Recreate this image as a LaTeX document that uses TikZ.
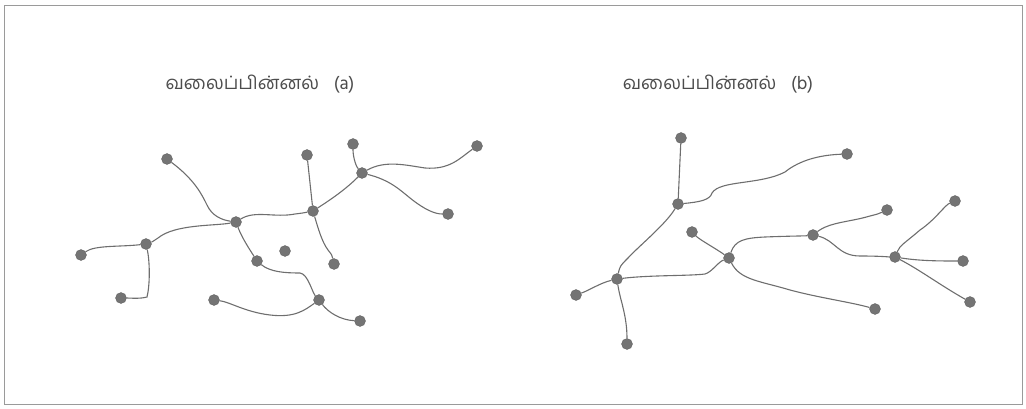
\documentclass[tikz,border=0pt]{standalone}
\usepackage{fontspec}
\newfontfamily\tamilfont[Script=Tamil]{Hind Madurai}
\definecolor{edgegray}{HTML}{6E6E6E}
\definecolor{nodegray}{HTML}{747474}
\definecolor{framegray}{HTML}{9A9A9A}
\tikzset{
  dot/.style={circle, fill=nodegray, draw=nodegray!80!black, line width=0.3pt, minimum size=11pt, inner sep=0pt},
  link/.style={draw=edgegray, line width=1.1pt},
  title/.style={font=\tamilfont\fontsize{18.5}{21}\selectfont, text=black!70}
}
\begin{document}
\begin{tikzpicture}[x=1pt,y=-1pt]
\useasboundingbox (0,0) rectangle (1026,409);
\draw[framegray, line width=1pt] (4,6) rectangle (1022,404);

\node[title] (ta) at (260,84) {வலைப்பின்னல்\hspace{0.8em}(a)};
\node[title] (tb) at (718,84) {வலைப்பின்னல்\hspace{0.8em}(b)};

% network (a)
\node[dot] (a1) at (167,159) {};
\node[dot] (a2) at (236,222) {};
\node[dot] (a3) at (146,244) {};
\node[dot] (a4) at (81,255) {};
\node[dot] (a5) at (121,298) {};
\node[dot] (a6) at (307,155) {};
\node[dot] (a7) at (313,211) {};
\node[dot] (a8) at (353,144) {};
\node[dot] (a9) at (362,173) {};
\node[dot] (a10) at (477,146) {};
\node[dot] (a11) at (448,214) {};
\node[dot] (a12) at (257,261) {};
\node[dot] (a13) at (285,251) {};
\node[dot] (a14) at (334,264) {};
\node[dot] (a15) at (214,300) {};
\node[dot] (a16) at (319,300) {};
\node[dot] (a17) at (360,321) {};

\path[link] (a1) .. controls (195,180) and (202,195) .. (207,205) .. controls (212,216) and (222,220) .. (a2);
\path[link] (a2) .. controls (215,226) and (175,224) .. (158,238) .. controls (152,242) .. (a3);
\path[link] (a3) .. controls (120,247) and (95,245) .. (a4);
\path[link] (a3) .. controls (150,262) and (150,285) .. (147,297) .. controls (140,299) and (130,298) .. (a5);
\path[link] (a2) .. controls (255,210) and (275,218) .. (295,214) .. controls (303,213) .. (a7);
\path[link] (a7) -- (a6);
\path[link] (a7) .. controls (330,200) and (345,190) .. (a9);
\path[link] (a9) .. controls (355,165) and (353,155) .. (a8);
\path[link] (a9) .. controls (385,160) and (405,165) .. (425,168) .. controls (450,170) and (460,158) .. (a10);
\path[link] (a9) .. controls (390,180) and (400,190) .. (410,198) .. controls (425,210) and (435,214) .. (a11);
\path[link] (a7) .. controls (318,228) and (322,242) .. (328,250) .. controls (332,255) .. (a14);
\path[link] (a2) .. controls (242,238) and (250,250) .. (a12);
\path[link] (a12) .. controls (270,272) and (285,273) .. (300,273) .. controls (308,274) and (312,292) .. (a16);
\path[link] (a16) .. controls (305,310) and (295,318) .. (270,315) .. controls (245,312) and (230,302) .. (a15);
\path[link] (a16) .. controls (328,312) and (340,320) .. (a17);

% network (b)
\node[dot] (b1) at (681,138) {};
\node[dot] (b2) at (678,204) {};
\node[dot] (b3) at (847,154) {};
\node[dot] (b4) at (617,279) {};
\node[dot] (b5) at (576,295) {};
\node[dot] (b6) at (627,344) {};
\node[dot] (b7) at (692,232) {};
\node[dot] (b8) at (729,258) {};
\node[dot] (b9) at (813,235) {};
\node[dot] (b10) at (887,210) {};
\node[dot] (b11) at (875,309) {};
\node[dot] (b12) at (895,257) {};
\node[dot] (b13) at (955,201) {};
\node[dot] (b14) at (963,261) {};
\node[dot] (b15) at (970,302) {};

\path[link] (b1) -- (b2);
\path[link] (b2) .. controls (700,202) and (710,200) .. (712,193) .. controls (720,180) and (760,185) .. (785,172) .. controls (800,160) and (820,155) .. (b3);
\path[link] (b2) .. controls (665,225) and (640,245) .. (628,258) .. controls (620,266) .. (b4);
\path[link] (b4) .. controls (600,283) and (590,290) .. (b5);
\path[link] (b4) .. controls (620,300) and (627,315) .. (b6);
\path[link] (b4) .. controls (650,275) and (690,276) .. (705,274) .. controls (712,272) and (718,262) .. (b8);
\path[link] (b8) .. controls (715,248) and (700,240) .. (b7);
\path[link] (b8) .. controls (735,240) and (745,238) .. (765,237) .. controls (790,236) and (805,236) .. (b9);
\path[link] (b9) .. controls (830,222) and (850,222) .. (870,216) .. controls (878,214) .. (b10);
\path[link] (b9) .. controls (835,240) and (838,256) .. (860,256) .. controls (880,256) and (890,257) .. (b12);
\path[link] (b8) .. controls (740,280) and (760,281) .. (790,290) .. controls (820,298) and (850,302) .. (b11);
\path[link] (b12) .. controls (900,245) and (905,243) .. (920,230) .. controls (935,220) and (945,205) .. (b13);
\path[link] (b12) .. controls (920,261) and (940,261) .. (b14);
\path[link] (b12) .. controls (920,270) and (940,285) .. (b15);
\end{tikzpicture}
\end{document}
